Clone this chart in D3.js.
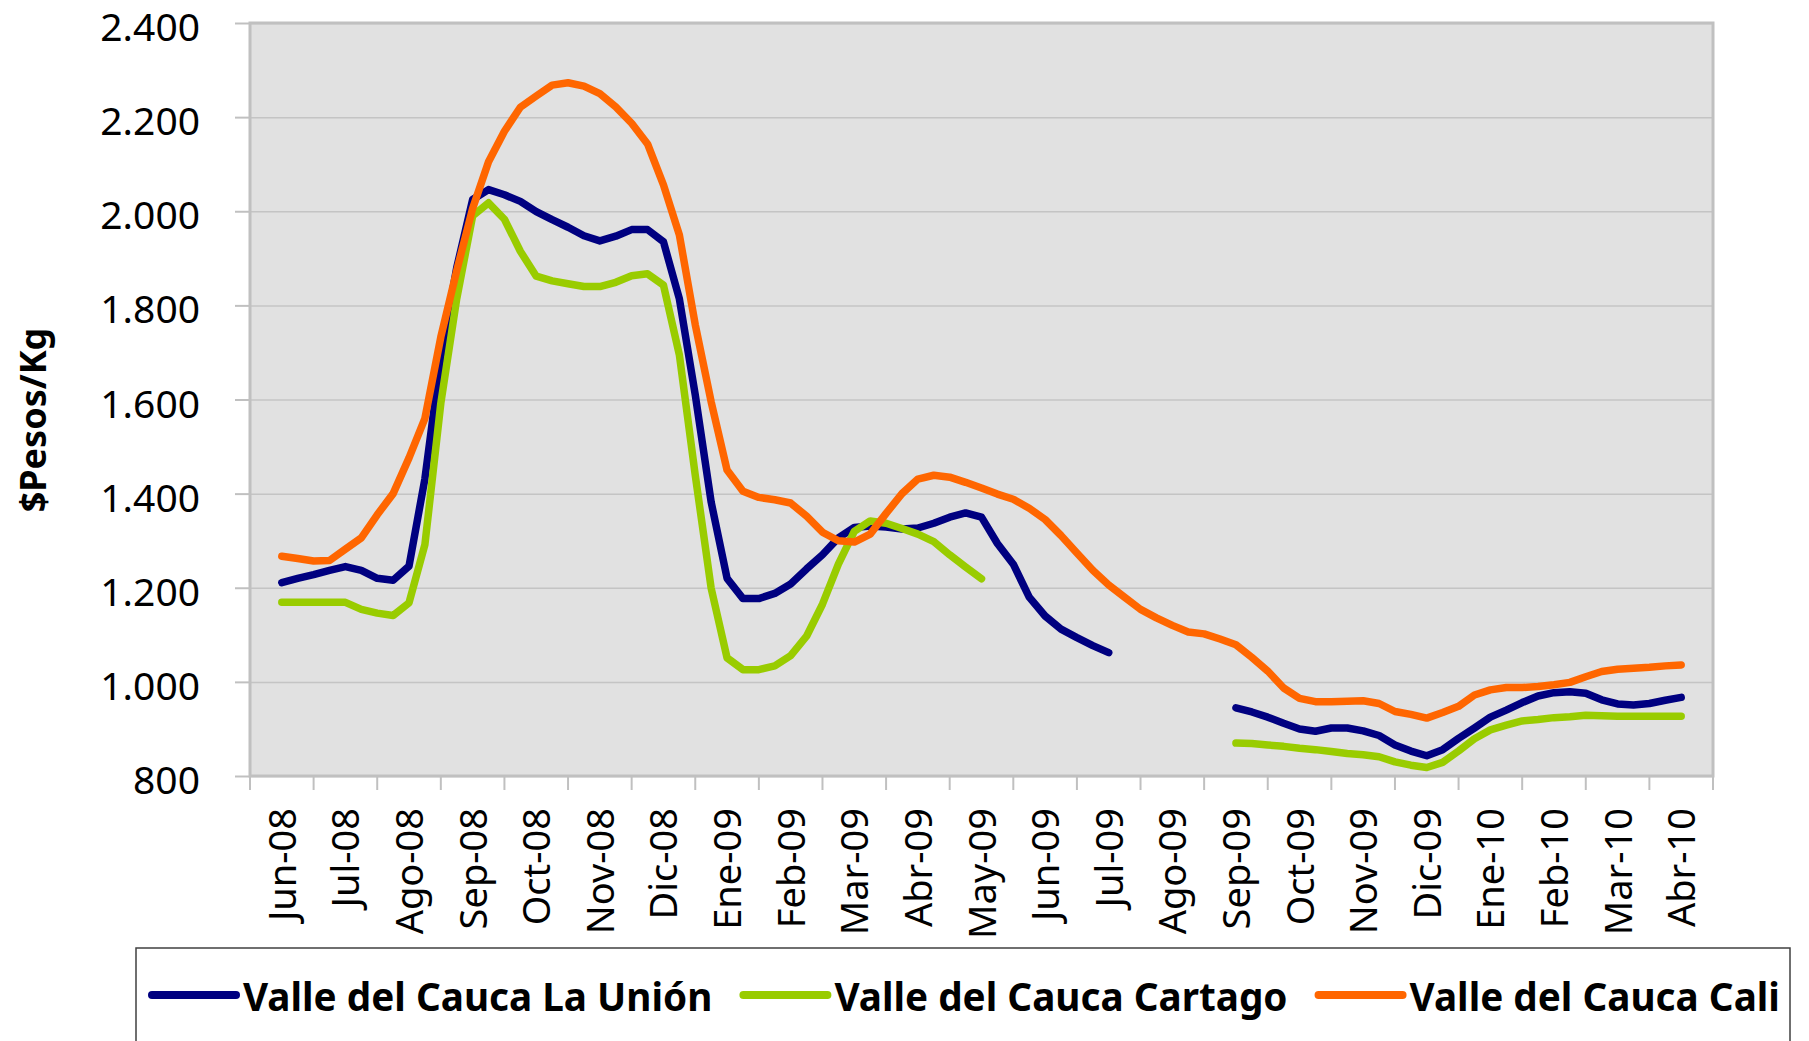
<!DOCTYPE html>
<html>
<head>
<meta charset="utf-8">
<script src="https://cdn.jsdelivr.net/npm/d3@7"></script>
<style>
  body { margin: 0; background: #fff; }
  svg { display: block; }
  text { font-family: "Noto Sans", sans-serif; fill: #000; }
</style>
</head>
<body>
<div id="chart"></div>
<script>

// month categories on the x axis
var months = ['Jun-08','Jul-08','Ago-08','Sep-08','Oct-08','Nov-08','Dic-08',
              'Ene-09','Feb-09','Mar-09','Abr-09','May-09','Jun-09','Jul-09',
              'Ago-09','Sep-09','Oct-09','Nov-09','Dic-09','Ene-10','Feb-10',
              'Mar-10','Abr-10'];

var yTicks = [800, 1000, 1200, 1400, 1600, 1800, 2000, 2200, 2400];

// weekly-ish readings, 4 per month, starting at Jun-08
var perMonth = 4;

var laUnion = [
  1211,1220,1228,1237,  1245,1237,1220,1216,  1246,1432,1690,1880,
  2025,2046,2035,2021,  1999,1982,1966,1948,  1937,1947,1961,1961,
  1935,1814,1610,1382,  1220,1177,1177,1188,  1208,1240,1270,1306,
  1328,1331,1329,1325,  1327,1337,1350,1359,  1350,1294,1250,1180,
  1140,1112,1094,1077,  1062,null,null,null,  null,null,null,null,
  945,936,925,912,      900,895,902,902,      896,886,866,853,
  843,856,880,902,      925,940,956,970,      977,979,976,962,
  953,951,954,961,      967
];

var cartago = [
  1169,1169,1169,1169,  1169,1154,1146,1141,  1168,1292,1592,1814,
  1990,2018,1983,1915,  1862,1852,1846,1840,  1840,1849,1863,1867,
  1843,1695,1439,1199,  1051,1026,1026,1034,  1056,1097,1165,1250,
  1320,1342,1337,1326,  1314,1298,1270,1244,  1219,null,null,null,
  null,null,null,null,  null,null,null,null,  null,null,null,null,
  870,869,866,863,      859,856,852,848,      845,841,830,823,
  818,829,853,879,      898,908,917,920,      924,926,929,928,
  927,927,927,927,      927
];

var cali = [
  1267,1262,1257,1258,  1282,1306,1355,1400,  1476,1560,1733,1874,
  2006,2105,2170,2221,  2245,2268,2273,2266,  2250,2222,2187,2143,
  2056,1950,1759,1595,  1450,1405,1392,1387,  1380,1352,1318,1300,
  1297,1314,1358,1400,  1431,1439,1435,1424,  1412,1399,1388,1369,
  1345,1311,1274,1237,  1206,1180,1154,1136,  1120,1106,1102,1091,
  1079,1052,1023,987,   965,958,958,959,      960,954,937,931,
  923,935,948,972,      983,988,988,990,      994,999,1011,1022,
  1027,1029,1031,1034,  1036
];

var seriesNames = ['Valle del Cauca La Unión', 'Valle del Cauca Cartago', 'Valle del Cauca Cali'];
var seriesValues = [laUnion, cartago, cali];
var seriesColors = ['#000080', '#99cc00', '#ff6600'];

var W = 1809, H = 1041;
var L = 250, R = 1713, T = 23, B = 776;

var svg = d3.select('#chart').append('svg')
    .attr('width', W)
    .attr('height', H);

svg.append('rect').attr('width', W).attr('height', H).attr('fill', '#fff');

var xBand = d3.scaleBand().domain(months).range([L, R]).padding(0);
var x = d3.scaleLinear().domain([-0.5, months.length - 0.5]).range([L, R]);
var y = d3.scaleLinear().domain([800, 2400]).range([B, T]);

var fmt = d3.formatLocale({decimal: ',', thousands: '.', grouping: [3], currency: ['$', '']}).format(',');

// plot background
svg.append('rect')
    .attr('x', L).attr('y', T)
    .attr('width', R - L).attr('height', B - T)
    .attr('fill', '#e1e1e1');

// gridlines
svg.append('g')
    .attr('transform', 'translate(' + L + ',0)')
    .call(d3.axisLeft(y).tickValues(yTicks).tickSize(-(R - L)).tickFormat(''))
    .call(function(g) {
      g.select('.domain').remove();
      g.selectAll('line').attr('stroke', '#c4c4c4').attr('stroke-width', 1.5);
    });

// y axis ticks + labels
svg.append('g')
    .attr('transform', 'translate(' + L + ',0)')
    .call(d3.axisLeft(y).tickValues(yTicks).tickSize(15).tickPadding(35).tickFormat(fmt))
    .call(function(g) {
      g.select('.domain').remove();
      g.selectAll('line').attr('stroke', '#c0c0c0').attr('stroke-width', 2);
      g.selectAll('text')
        .attr('font-family', '"Noto Sans", sans-serif')
        .attr('font-size', 39)
        .attr('fill', '#000')
        .attr('dy', '0.45em');
    });

// x axis ticks at month boundaries
var bounds = months.map(function(m) { return xBand(m); }).concat([R]);
svg.append('g').selectAll('line')
    .data(bounds)
    .enter().append('line')
    .attr('x1', function(d) { return d; })
    .attr('x2', function(d) { return d; })
    .attr('y1', B)
    .attr('y2', B + 14)
    .attr('stroke', '#c0c0c0')
    .attr('stroke-width', 2);

// x labels, rotated
svg.append('g').selectAll('text')
    .data(months)
    .enter().append('text')
    .attr('transform', function(d) {
      return 'translate(' + (xBand(d) + xBand.bandwidth() / 2 + 14) + ',808) rotate(-90)';
    })
    .attr('text-anchor', 'end')
    .attr('font-size', 38)
    .text(function(d) { return d; });

// plot border
svg.append('rect')
    .attr('x', L).attr('y', T)
    .attr('width', R - L).attr('height', B - T)
    .attr('fill', 'none')
    .attr('stroke', '#c0c0c0')
    .attr('stroke-width', 3);

// lines
var line = d3.line()
    .defined(function(d) { return d != null; })
    .x(function(d, i) { return x(i / perMonth); })
    .y(function(d) { return y(d); });

svg.append('g').selectAll('path')
    .data(seriesValues)
    .enter().append('path')
    .attr('d', line)
    .attr('fill', 'none')
    .attr('stroke', function(d, i) { return seriesColors[i]; })
    .attr('stroke-width', 7.5)
    .attr('stroke-linejoin', 'round')
    .attr('stroke-linecap', 'round');

// y axis title
svg.append('text')
    .attr('transform', 'translate(46,420) rotate(-90)')
    .attr('text-anchor', 'middle')
    .attr('font-size', 36)
    .attr('font-weight', 'bold')
    .text('$Pesos/Kg');

// legend
svg.append('rect')
    .attr('x', 136).attr('y', 948)
    .attr('width', 1790 - 136).attr('height', 140)
    .attr('fill', '#fff')
    .attr('stroke', '#404040')
    .attr('stroke-width', 1.5);

var lx = 152;
seriesNames.forEach(function(name, i) {
  svg.append('line')
      .attr('x1', lx).attr('x2', lx + 84)
      .attr('y1', 995).attr('y2', 995)
      .attr('stroke', seriesColors[i])
      .attr('stroke-width', 8)
      .attr('stroke-linecap', 'round');
  var t = svg.append('text')
      .attr('x', lx + 91)
      .attr('y', 1011)
      .attr('font-size', 38.7)
      .attr('font-weight', 'bold')
      .text(name);
  lx = lx + 91 + t.node().getComputedTextLength() + 31;
});

</script>
</body>
</html>
